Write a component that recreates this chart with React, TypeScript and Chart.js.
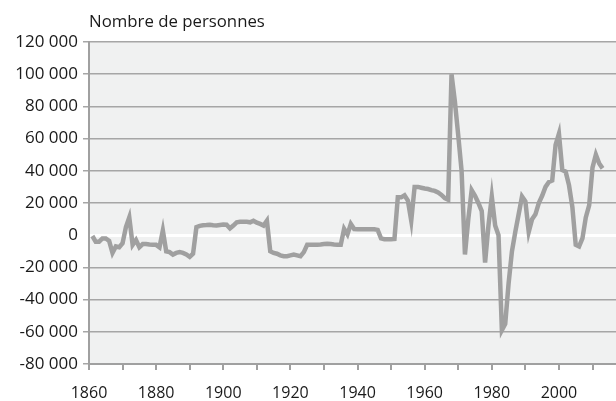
import React, { useEffect, useRef } from "react";
import { Chart, registerables } from "chart.js";

Chart.register(...registerables);

const firstYear = 1861;
const yTitle = "Nombre de personnes";
const xMin = 1860;
const xMax = 2017;
const yMin = -80000;
const yMax = 120000;
const yStep = 20000;
const xLabelYears = [1860, 1880, 1900, 1920, 1940, 1960, 1980, 2000];

// Solde annuel, une valeur par année à partir de 1861
const values = [
  -500, -4000, -4000, -2000, -2000, -3500, -11000, -7000, -7500, -5000, // 1861-1870
  5000, 11000, -6000, -3000, -7500, -5500, -5500, -5800, -6000, -6000, // 1871-1880
  -7500, 3000, -10000, -10500, -12000, -11000, -10500, -11000, -12000, -13500, // 1881-1890
  -11500, 5000, 5800, 6200, 6300, 6500, 6200, 6000, 6300, 6600, // 1891-1900
  6500, 4200, 6000, 8000, 8300, 8300, 8300, 8000, 9000, 7800, // 1901-1910
  7000, 6000, 9000, -10000, -11000, -11500, -12500, -13000, -13000, -12500, // 1911-1920
  -12000, -12500, -13000, -10500, -6000, -6000, -6000, -6000, -5800, -5500, // 1921-1930
  -5300, -5500, -5800, -6000, -6000, 4000, 500, 7000, 3800, 3700, // 1931-1940
  3700, 3700, 3700, 3700, 3700, 3300, -2000, -2500, -2500, -2500, // 1941-1950
  -2300, 23500, 23500, 24800, 21500, 9000, 30000, 30000, 29500, 29000, // 1951-1960
  28700, 28000, 27500, 26500, 25000, 23000, 22000, 100000, 83000, 62000, // 1961-1970
  40000, -12000, 10000, 28000, 24500, 20000, 15000, -17000, 6000, 24000, // 1971-1980
  6000, 0, -59000, -55000, -30000, -10000, 2000, 13000, 24000, 21000, // 1981-1990
  2000, 10000, 13000, 20000, 24500, 30000, 33000, 34000, 56000, 63000, // 1991-2000
  40500, 39500, 31000, 17500, -6000, -7000, -2000, 11000, 18500, 42000, // 2001-2010
  50000, 44500, 41500, // 2011-2013
];

const gridGray = "#a6a6a6";
const axisGray = "#a0a0a0";
const lineGray = "#a0a0a0";
const plotBg = "#f0f1f1";
const textColor = "#1a1a1a";

function fmt(v: number): string {
  const s = Math.abs(v)
    .toString()
    .replace(/\B(?=(\d{3})+(?!\d))/g, " ");
  return (v < 0 ? "-" : "") + s;
}

export default function App() {
  const canvasRef = useRef<HTMLCanvasElement | null>(null);

  useEffect(() => {
    document.body.style.margin = "0";
    const canvas = canvasRef.current;
    if (!canvas) return;

    const points = values.map((v, i) => ({ x: firstYear + i, y: v }));

    const bgPlugin = {
      id: "plotBg",
      beforeDraw(chart: any) {
        const { ctx, chartArea } = chart;
        ctx.save();
        ctx.fillStyle = "#ffffff";
        ctx.fillRect(0, 0, chart.width, chart.height);
        ctx.fillStyle = plotBg;
        ctx.fillRect(
          chartArea.left,
          chartArea.top,
          chartArea.right - chartArea.left,
          chartArea.bottom - chartArea.top
        );
        ctx.restore();
      },
      afterDraw(chart: any) {
        const { ctx, chartArea } = chart;
        ctx.save();
        ctx.font = "16.8px 'Open Sans', sans-serif";
        ctx.fillStyle = textColor;
        ctx.textAlign = "left";
        ctx.textBaseline = "alphabetic";
        ctx.fillText(yTitle, chartArea.left, 27);
        ctx.restore();
      },
    };

    Chart.defaults.font.family = "'Open Sans', sans-serif";
    Chart.defaults.font.size = 16;
    Chart.defaults.color = textColor;

    const chart = new Chart(canvas, {
      type: "line",
      data: {
        datasets: [
          {
            data: points,
            borderColor: lineGray,
            borderWidth: 4.5,
            pointRadius: 0,
            tension: 0,
            fill: false,
          },
        ],
      },
      options: {
        animation: false,
        responsive: true,
        maintainAspectRatio: false,
        layout: { padding: { top: 42, right: 0, left: 0, bottom: 0 } },
        plugins: {
          legend: { display: false },
          title: { display: false },
          tooltip: { enabled: false },
        },
        scales: {
          x: {
            type: "linear",
            min: xMin,
            max: xMax,
            afterFit(scale: any) {
              scale.height = 37;
            },
            afterBuildTicks(scale: any) {
              const t = [];
              for (let y = xMin; y <= xMax; y += 10) t.push({ value: y });
              scale.ticks = t;
            },
            ticks: {
              autoSkip: false,
              maxRotation: 0,
              padding: 14,
              callback: (v: any) =>
                xLabelYears.includes(Number(v)) ? String(v) : "",
            },
            grid: {
              drawOnChartArea: false,
              drawTicks: true,
              tickLength: 6,
              color: axisGray,
              lineWidth: 2,
            },
            border: { display: true, color: axisGray, width: 2 },
          },
          y: {
            min: yMin,
            max: yMax,
            afterFit(scale: any) {
              scale.width = 89;
            },
            ticks: {
              stepSize: yStep,
              padding: 5,
              font: { size: 17 },
              callback: (v: any) => fmt(Number(v)),
            },
            grid: {
              drawTicks: true,
              tickLength: 6,
              color: (ctx: any) =>
                ctx.tick && ctx.tick.value === 0 ? "#ffffff" : gridGray,
              lineWidth: (ctx: any) =>
                ctx.tick && ctx.tick.value === 0 ? 3 : 1.5,
            },
            border: { display: true, color: axisGray, width: 2 },
          },
        },
      },
      plugins: [bgPlugin],
    });

    return () => chart.destroy();
  }, []);

  return (
    <div style={{ width: 616, height: 401, position: "relative" }}>
      <canvas ref={canvasRef} />
    </div>
  );
}
